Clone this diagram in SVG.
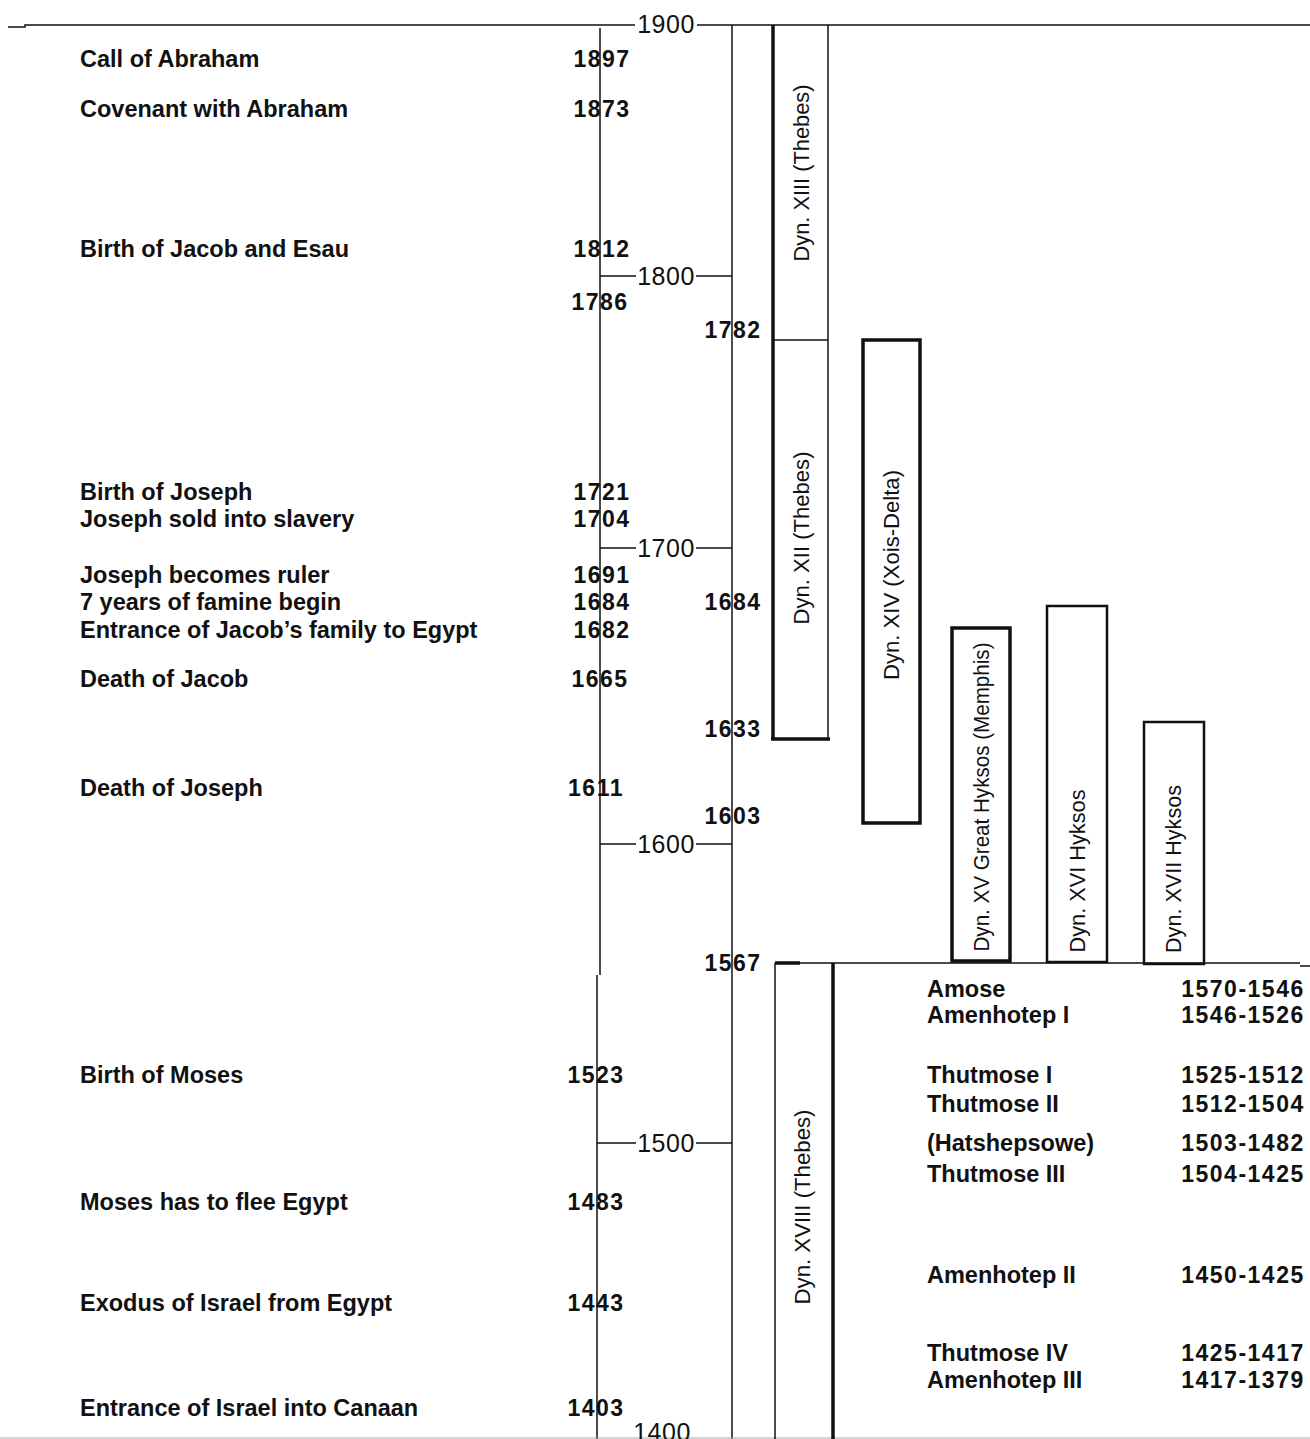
<svg xmlns="http://www.w3.org/2000/svg" width="1310" height="1439" viewBox="0 0 1310 1439">
<style>
.ev{font-family:"Liberation Sans",Arial,sans-serif;font-weight:bold;font-size:23.5px;fill:#111}
.yr{font-family:"Liberation Sans",Arial,sans-serif;font-weight:bold;font-size:23px;fill:#111;text-anchor:middle;letter-spacing:1.5px}
.tk{font-family:"Liberation Sans",Arial,sans-serif;font-size:25px;fill:#111;text-anchor:middle;letter-spacing:0.5px}
.dyn{font-family:"Liberation Sans",Arial,sans-serif;font-size:22px;fill:#111;text-anchor:middle}
.ln{stroke:#111;stroke-width:1.5;fill:none}
.thick{stroke:#111;stroke-width:3.5;fill:none}
.box{stroke:#111;fill:none}
</style>
<rect x="0" y="0" width="1310" height="1439" fill="#fff"/>
<g id="connectors">
<path class="ln" d="M8 27 H25 V25 H635 M697 25 H1310"/>
<path class="ln" d="M600 28 V975 M597 975 V1439"/>
<path class="ln" d="M732 25 V1439"/>
<path class="ln" d="M600 276 H636 M696 276 H732"/>
<path class="ln" d="M600 548 H636 M696 548 H732"/>
<path class="ln" d="M600 844 H636 M696 844 H732"/>
<path class="ln" d="M597 1143 H636 M696 1143 H732"/>
<path class="ln" d="M800 963 H1300 M1300 966 H1310"/>
<line x1="0" y1="1438" x2="1310" y2="1438" stroke="#aaa" stroke-width="1"/>
</g>
<g id="ticks">
<text class="tk" x="666" y="33">1900</text>
<text class="tk" x="666" y="285">1800</text>
<text class="tk" x="666" y="557">1700</text>
<text class="tk" x="666" y="853">1600</text>
<text class="tk" x="666" y="1152">1500</text>
<text class="tk" x="662" y="1441">1400</text>
</g>
<g id="events">
<text class="ev" x="80" y="67">Call of Abraham</text>
<text class="ev" x="80" y="117">Covenant with Abraham</text>
<text class="ev" x="80" y="257">Birth of Jacob and Esau</text>
<text class="ev" x="80" y="500">Birth of Joseph</text>
<text class="ev" x="80" y="527">Joseph sold into slavery</text>
<text class="ev" x="80" y="583">Joseph becomes ruler</text>
<text class="ev" x="80" y="610">7 years of famine begin</text>
<text class="ev" x="80" y="638">Entrance of Jacob’s family to Egypt</text>
<text class="ev" x="80" y="687">Death of Jacob</text>
<text class="ev" x="80" y="796">Death of Joseph</text>
<text class="ev" x="80" y="1083">Birth of Moses</text>
<text class="ev" x="80" y="1210">Moses has to flee Egypt</text>
<text class="ev" x="80" y="1311">Exodus of Israel from Egypt</text>
<text class="ev" x="80" y="1416">Entrance of Israel into Canaan</text>
</g>
<g id="years">
<text class="yr" x="602" y="67">1897</text>
<text class="yr" x="602" y="117">1873</text>
<text class="yr" x="602" y="257">1812</text>
<text class="yr" x="600" y="310">1786</text>
<text class="yr" x="602" y="500">1721</text>
<text class="yr" x="602" y="527">1704</text>
<text class="yr" x="602" y="583">1691</text>
<text class="yr" x="602" y="610">1684</text>
<text class="yr" x="602" y="638">1682</text>
<text class="yr" x="600" y="687">1665</text>
<text class="yr" x="596" y="796">1611</text>
<text class="yr" x="596" y="1083">1523</text>
<text class="yr" x="596" y="1210">1483</text>
<text class="yr" x="596" y="1311">1443</text>
<text class="yr" x="596" y="1416">1403</text>
<text class="yr" x="733" y="338">1782</text>
<text class="yr" x="733" y="610">1684</text>
<text class="yr" x="733" y="737">1633</text>
<text class="yr" x="733" y="824">1603</text>
<text class="yr" x="733" y="971">1567</text>
</g>
<g id="dyn13">
<path class="ln" d="M828 25 V739 M773 340 H828"/>
<path class="thick" d="M773 25 V739"/>
<text class="dyn" transform="translate(801,173) rotate(-90)" y="8" textLength="177" lengthAdjust="spacingAndGlyphs">Dyn. XIII (Thebes)</text>
</g>
<g id="dyn12">
<path class="thick" d="M771 739 H830"/>
<text class="dyn" transform="translate(801,538) rotate(-90)" y="8" textLength="173" lengthAdjust="spacingAndGlyphs">Dyn. XII  (Thebes)</text>
</g>
<g id="dyn14">
<rect class="box" x="863" y="340" width="57" height="483" stroke-width="3.5"/>
<text class="dyn" transform="translate(891,575) rotate(-90)" y="8" textLength="210" lengthAdjust="spacingAndGlyphs">Dyn. XIV  (Xois-Delta)</text>
</g>
<g id="dyn15">
<rect class="box" x="952" y="628" width="58" height="333" stroke-width="3.5"/>
<text class="dyn" transform="translate(981,797) rotate(-90)" y="8" textLength="309" lengthAdjust="spacingAndGlyphs">Dyn. XV  Great Hyksos (Memphis)</text>
</g>
<g id="dyn16">
<rect class="box" x="1047" y="606" width="60" height="356" stroke-width="2.5"/>
<text class="dyn" transform="translate(1077,871) rotate(-90)" y="8" textLength="163" lengthAdjust="spacingAndGlyphs">Dyn. XVI  Hyksos</text>
</g>
<g id="dyn17">
<rect class="box" x="1144" y="722" width="60" height="242" stroke-width="2.5"/>
<text class="dyn" transform="translate(1173,869) rotate(-90)" y="8" textLength="168" lengthAdjust="spacingAndGlyphs">Dyn. XVII  Hyksos</text>
</g>
<g id="dyn18">
<path class="ln" d="M775 963 V1439" stroke-width="2"/>
<path class="thick" d="M775 963 H800 M833 963 V1439"/>
<text class="dyn" transform="translate(802,1207) rotate(-90)" y="8" textLength="195" lengthAdjust="spacingAndGlyphs">Dyn. XVIII  (Thebes)</text>
</g>
<g id="kings">
<text class="ev" x="927" y="997">Amose</text>
<text class="ev" x="927" y="1023">Amenhotep I</text>
<text class="ev" x="927" y="1083">Thutmose I</text>
<text class="ev" x="927" y="1112">Thutmose II</text>
<text class="ev" x="927" y="1151">(Hatshepsowe)</text>
<text class="ev" x="927" y="1182">Thutmose III</text>
<text class="ev" x="927" y="1283">Amenhotep II</text>
<text class="ev" x="927" y="1361">Thutmose IV</text>
<text class="ev" x="927" y="1388">Amenhotep III</text>
<text class="yr" x="1243" y="997">1570-1546</text>
<text class="yr" x="1243" y="1023">1546-1526</text>
<text class="yr" x="1243" y="1083">1525-1512</text>
<text class="yr" x="1243" y="1112">1512-1504</text>
<text class="yr" x="1243" y="1151">1503-1482</text>
<text class="yr" x="1243" y="1182">1504-1425</text>
<text class="yr" x="1243" y="1283">1450-1425</text>
<text class="yr" x="1243" y="1361">1425-1417</text>
<text class="yr" x="1243" y="1388">1417-1379</text>
</g>
</svg>
